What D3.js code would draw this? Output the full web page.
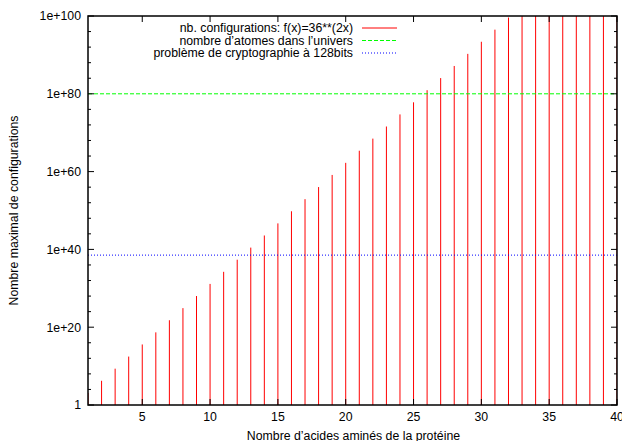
<!DOCTYPE html>
<html><head><meta charset="utf-8">
<script src="https://cdn.jsdelivr.net/npm/d3@7"></script>
<style>
body{margin:0;background:#fff;}
svg text{font-family:"Liberation Sans",Arial,Helvetica,sans-serif;font-size:12.3px;fill:#000;}
</style></head><body>
<svg id="c" width="622" height="441"></svg>
<script>
const xValues = [1,2,3,4,5,6,7,8,9,10,11,12,13,14,15,16,17,18,19,20,21,22,23,24,25,26,27,28,29,30,31,32,33,34,35,36,37,38,39,40];
const configValues = [1296,1.68e6,2.18e9,2.82e12,3.66e15,4.74e18,6.14e21,7.96e24,1.03e28,1.34e31,1.73e34,2.25e37,2.91e40,3.77e43,4.89e46,6.33e49,8.21e52,1.06e56,1.38e59,1.79e62,2.32e65,3.00e68,3.89e71,5.04e74,6.53e77,8.47e80,1.10e84,1.42e87,1.84e90,2.39e93,3.10e96,4.01e99,5.20e102,6.74e105,8.73e108,1.13e112,1.47e115,1.90e118,2.47e121,3.20e124];
const atomsUniverse = 1e80;
const crypto128 = 3.40e38;
const xTicks = [5,10,15,20,25,30,35,40];
const yTicks = [1,1e20,1e40,1e60,1e80,1e100];
const yTickLabels = ["1","1e+20","1e+40","1e+60","1e+80","1e+100"];
const legendLabels = ["nb. configurations: f(x)=36**(2x)","nombre d\u2019atomes dans l\u2019univers","probl\u00e8me de cryptographie \u00e0 128bits"];
const xTitle = "Nombre d\u2019acides amin\u00e9s de la prot\u00e9ine";
const yTitle = "Nombre maximal de configurations";

const svg = d3.select("#c");
const L=88, R=617, T=16, B=405;
const x = d3.scaleLinear().domain([1,40]).range([L,R]);
const y = d3.scaleLog().domain([1,1e100]).range([B,T]).clamp(true);

svg.append("defs").append("clipPath").attr("id","clip").append("rect")
  .attr("x",L).attr("y",T).attr("width",R-L).attr("height",B-T);
const g = svg.append("g").attr("clip-path","url(#clip)");

// impulses
g.selectAll("line.bar").data(xValues).enter().append("line")
  .attr("x1",(d)=>x(d)).attr("x2",(d)=>x(d))
  .attr("y1",y(1)).attr("y2",(d,i)=>y(configValues[i]))
  .attr("stroke","#ff0000").attr("stroke-width",1);

// horizontal reference lines
g.append("line").attr("x1",L).attr("x2",R).attr("y1",y(atomsUniverse)).attr("y2",y(atomsUniverse))
  .attr("stroke","#00ff00").attr("stroke-width",1).attr("stroke-dasharray","4,2");
g.append("line").attr("x1",L).attr("x2",R).attr("y1",y(crypto128)).attr("y2",y(crypto128))
  .attr("stroke","#0000ff").attr("stroke-width",1).attr("stroke-dasharray","1,2");

// ticks
const tk = svg.append("g").attr("stroke","#000").attr("stroke-width",1);
const minorY = d3.range(0,101,4).filter(e=>e%20!==0);
minorY.forEach(e=>{
  const yy=y(Math.pow(10,e));
  tk.append("line").attr("x1",L).attr("x2",L+3).attr("y1",yy).attr("y2",yy);
  tk.append("line").attr("x1",R).attr("x2",R-3).attr("y1",yy).attr("y2",yy);
});
yTicks.forEach((v,i)=>{
  const yy=y(v);
  tk.append("line").attr("x1",L).attr("x2",L+6).attr("y1",yy).attr("y2",yy);
  tk.append("line").attr("x1",R).attr("x2",R-6).attr("y1",yy).attr("y2",yy);
  svg.append("text").attr("x",L-7).attr("y",yy).attr("dy","0.35em").attr("text-anchor","end").text(yTickLabels[i]);
});
xTicks.forEach(v=>{
  const xx=x(v);
  tk.append("line").attr("x1",xx).attr("x2",xx).attr("y1",B).attr("y2",B-6);
  tk.append("line").attr("x1",xx).attr("x2",xx).attr("y1",T).attr("y2",T+6);
  svg.append("text").attr("x",xx).attr("y",B+12).attr("dy","0.35em").attr("text-anchor","middle").text(v);
});

// border
svg.append("rect").attr("x",L).attr("y",T).attr("width",R-L).attr("height",B-T)
  .attr("fill","none").attr("stroke","#000").attr("stroke-width",1.5);

// titles
svg.append("text").attr("x",(L+R)/2+1).attr("y",436).attr("dy","0.35em").attr("text-anchor","middle").text(xTitle);
svg.append("text").attr("transform",`translate(14,${(T+B)/2}) rotate(-90)`).attr("dy","0.35em").attr("text-anchor","middle").text(yTitle);

// legend
const legColors=["#ff0000","#00ff00","#0000ff"], legDash=[null,"4,2","1,2"];
legendLabels.forEach((t,i)=>{
  const yy=28+i*12.5;
  svg.append("text").attr("x",353).attr("y",yy).attr("dy","0.35em").attr("text-anchor","end").text(t);
  const ln=svg.append("line").attr("x1",362).attr("x2",397).attr("y1",yy).attr("y2",yy)
    .attr("stroke",legColors[i]).attr("stroke-width",1);
  if(legDash[i]) ln.attr("stroke-dasharray",legDash[i]);
});
</script></body></html>
